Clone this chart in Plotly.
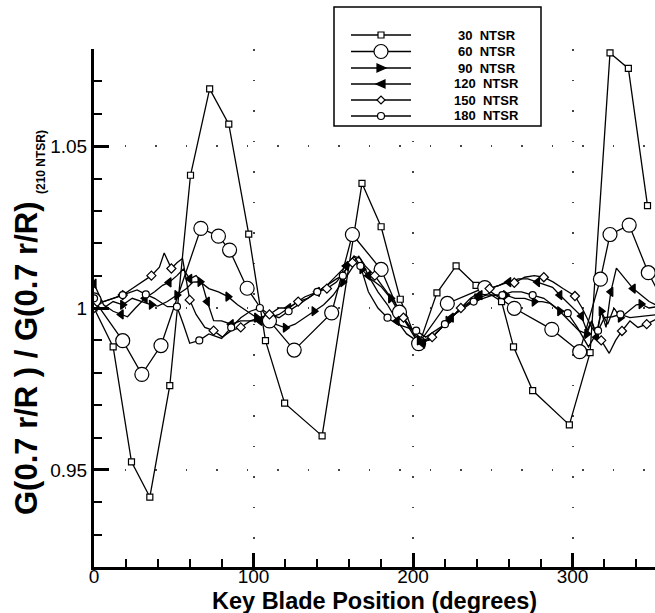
import plotly.graph_objects as go

# ---------------- data ----------------
deg_30 = [0, 12, 23.5, 35, 47.5, 60.5, 72.5, 84.5, 97, 107.5, 119.5, 143, 168, 180, 192, 203.5,
          215, 227, 239.5, 255.5, 263, 275, 298, 311, 323.5, 335, 347]
g_30 = [1.000, 0.988, 0.9525, 0.9416, 0.976, 1.041, 1.0677, 1.0568, 1.0228, 0.9899, 0.9706, 0.9605,
        1.0385, 1.0251, 1.0027, 0.9883, 1.0047, 1.013, 1.007, 1.002, 0.988, 0.9745, 0.9639, 0.9862,
        1.0788, 1.074, 1.0316]

deg_60 = [0, 18, 30, 42, 67, 78, 85, 96, 110, 125.5, 149, 162, 180, 191.5, 203.5, 221.5, 245,
          263.5, 287, 304.5, 317.5, 323.5, 335.5, 347.5, 360]
g_60 = [1.0025, 0.9899, 0.9795, 0.9884, 1.0246, 1.0222, 1.0179, 1.0061, 0.996, 0.987, 0.9985,
        1.0227, 1.0119, 0.9987, 0.989, 1.0014, 1.0063, 0.9999, 0.9934, 0.9865, 1.0089, 1.0227,
        1.0256, 1.0109, 0.999]

deg_90 = [0, 6, 12, 18, 24, 30, 36, 40, 46, 52, 58, 62, 66.5, 72, 78, 84, 90, 96, 102, 108, 114,
          120, 126, 132, 138, 144, 150, 156, 160, 164, 168, 173.5, 180, 186, 192, 198, 204, 210,
          216, 222, 228, 234, 240, 246, 252, 258, 264, 270, 276, 281, 286, 292, 298, 304, 309,
          312, 315, 318, 322, 326, 330, 335, 340, 343, 348, 354]
g_90 = [1.000, 1.000, 1.002, 1.001, 1.003, 1.002, 1.001, 1.0006, 1.002, 1.004, 1.006, 1.008,
        1.0081, 1.006, 1.005, 1.0035, 1.001, 0.999, 0.997, 0.996, 0.995, 0.9939, 0.995, 0.997,
        0.999, 1.001, 1.004, 1.008, 1.011, 1.014, 1.012, 1.009, 1.0066, 1.003, 0.998, 0.994,
        0.990, 0.990, 0.993, 0.996, 0.999, 1.001, 1.003, 1.004, 1.004, 1.004, 1.003, 1.003,
        1.002, 1.002, 1.0014, 0.999, 0.996, 0.993, 0.992, 0.996, 0.992, 0.999, 0.995, 1.000,
        0.997, 0.999, 1.001, 1.0012, 1.000, 1.0005]

deg_120 = [0, 6, 12, 17, 21, 26, 32, 38, 43, 47, 52, 56, 60, 64, 67.5, 71, 75, 80, 86, 92, 96,
           104, 110, 116, 122, 128, 132, 140, 146, 152, 158, 163, 167, 172, 178, 184, 190, 196,
           202, 206, 212, 218, 224, 230, 236, 242, 248, 254, 260, 266, 272, 278, 283, 287.5,
           292, 298, 302, 305.5, 309, 312, 315, 318, 321, 324, 327.5, 333, 338, 343, 348, 356]
g_120 = [1.0075, 1.001, 0.999, 0.998, 0.9973, 1.000, 1.003, 1.005, 1.007, 1.0079, 1.010, 1.012,
         1.009, 1.010, 1.0081, 1.002, 0.9961, 0.996, 0.995, 0.996, 0.996, 0.996, 0.997, 0.998,
         1.000, 1.002, 1.0034, 1.005, 1.007, 1.010, 1.013, 1.016, 1.0153, 1.010, 1.005, 1.001,
         0.996, 0.992, 0.990, 0.989, 0.991, 0.994, 0.997, 1.000, 1.002, 1.004, 1.006, 1.007,
         1.008, 1.009, 1.009, 1.008, 1.007, 1.0064, 1.004, 1.001, 0.999, 0.9975, 0.993, 0.996,
         0.991, 0.999, 0.994, 1.005, 1.0123, 1.009, 1.006, 1.004, 1.002, 1.000]

deg_150 = [0, 6, 12, 18, 24, 30, 36, 41, 44, 48.5, 52, 55.5, 60, 64, 69.5, 75, 80.5, 86, 92, 98,
           104, 110, 116, 122, 128, 134, 140, 146, 152, 158, 162, 166, 170, 176, 182, 188, 194,
           200, 206, 212, 218, 224, 230, 236, 242, 248, 254, 258, 263.5, 270, 276, 282, 288,
           294, 301.5, 306, 312, 318, 323, 327, 331, 336, 341, 346.5, 354]
g_150 = [1.000, 1.002, 1.003, 1.004, 1.006, 1.008, 1.010, 1.0126, 1.017, 1.0122, 1.014, 1.0153,
         1.0025, 0.998, 0.994, 0.993, 0.991, 0.993, 0.994, 0.996, 0.997, 0.998, 1.000, 1.000,
         1.002, 1.003, 1.005, 1.006, 1.008, 1.012, 1.014, 1.016, 1.013, 1.010, 1.006, 1.002,
         0.997, 0.993, 0.990, 0.991, 0.994, 0.997, 1.000, 1.003, 1.005, 1.006, 1.007, 1.008,
         1.0078, 1.0095, 1.010, 1.0095, 1.008, 1.006, 1.0037, 1.000, 0.994, 0.990, 0.986,
         0.990, 0.9929, 0.996, 0.994, 0.995, 0.997]

deg_180 = [0, 6, 12, 18, 24, 27, 32.5, 38, 46, 52, 56, 60, 66, 72, 80, 86, 92, 98, 104, 110,
           116, 122, 128, 134, 140, 146, 152, 156, 160, 163, 167, 172, 178, 184, 190, 196, 202,
           208, 214, 220, 226, 232, 238, 244, 250, 256, 262, 268, 275, 282, 290, 297, 303, 310,
           316, 320, 325, 330, 336, 343, 354]
g_180 = [1.003, 1.002, 1.003, 1.004, 1.005, 1.0056, 1.0042, 1.003, 1.0004, 1.0004, 0.995,
         0.9891, 0.990, 0.992, 0.9906, 0.994, 0.997, 0.999, 1.000, 0.998, 0.997, 0.999, 1.001,
         1.003, 1.005, 1.007, 1.009, 1.010, 1.014, 1.016, 1.013, 1.005, 1.000, 0.997, 0.995,
         0.994, 0.993, 0.991, 0.993, 0.995, 0.998, 1.000, 1.002, 1.003, 1.004, 1.004, 1.005,
         1.005, 1.004, 1.003, 1.000, 0.9984, 0.994, 0.988, 0.993, 0.997, 0.9973, 0.998, 0.997,
         0.9973, 0.998]

labels = ["30 NTSR", "60 NTSR", "90 NTSR", "120 NTSR", "150 NTSR", "180 NTSR"]
x_ticks = [0, 100, 200, 300]
y_ticks = [0.95, 1.0, 1.05]
y_ticktext = ["0.95", "1", "1.05"]

# ---------------- styles ----------------
W, H = 655, 613
L, R, T, B = 94, 0, 49, 46
PW, PH = W - L - R, H - T - B
X_MAX = 351.7

series = [
    (deg_30, g_30, dict(symbol="square", size=6, color="white"), 1),
    (deg_60, g_60, dict(symbol="circle", size=14, color="white"), 1),
    (deg_90, g_90, dict(symbol="triangle-right", size=8, color="black"), 3),
    (deg_120, g_120, dict(symbol="triangle-left", size=8, color="black"), 3),
    (deg_150, g_150, dict(symbol="diamond", size=7, color="white"), 3),
    (deg_180, g_180, dict(symbol="circle", size=7, color="white"), 3),
]

fig = go.Figure()
for xs, ys, mk, step in series:
    fig.add_trace(go.Scatter(x=xs, y=ys, mode="lines",
                             line=dict(color="black", width=1.3), hoverinfo="skip"))
for xs, ys, mk, step in series:
    mx = [x for i, x in enumerate(xs) if i % step == 0 and x <= X_MAX]
    my = [y for i, y in enumerate(ys) if i % step == 0 and xs[i] <= X_MAX]
    fig.add_trace(go.Scatter(x=mx, y=my, mode="markers", cliponaxis=True,
                             marker=dict(symbol=mk["symbol"], size=mk["size"], color=mk["color"],
                                         line=dict(color="black", width=1.2))))


def px(xp):
    return (xp - L) / PW


def py(yp):
    return (H - B - yp) / PH


shapes = []
# legend box
shapes.append(dict(type="rect", xref="paper", yref="paper", x0=px(334), x1=px(541),
                   y0=py(126), y1=py(7), line=dict(color="black", width=1.5),
                   fillcolor="white", layer="above"))
rows = [35, 51.5, 68, 84, 100, 116]
legend_marks = [
    ("rect", 3, None, "white"),
    ("circle", 7, None, "white"),
    ("path", 0, "M -4,-4 L 5,0 L -4,4 Z", "black"),
    ("path", 0, "M 4,-4 L -5,0 L 4,4 Z", "black"),
    ("path", 0, "M -4,0 L 0,4 L 4,0 L 0,-4 Z", "white"),
    ("circle", 3.5, None, "white"),
]
annotations = []
for i, yy in enumerate(rows):
    shapes.append(dict(type="line", xref="paper", yref="paper", x0=px(351), x1=px(411),
                       y0=py(yy), y1=py(yy), line=dict(color="black", width=1.3), layer="above"))
    kind, r, path, fill = legend_marks[i]
    shp = dict(type=kind, xref="paper", yref="paper", xsizemode="pixel", ysizemode="pixel",
               xanchor=px(381), yanchor=py(yy), fillcolor=fill,
               line=dict(color="black", width=1.2), layer="above")
    if kind == "path":
        shp["path"] = path
    else:
        shp.update(x0=-r, x1=r, y0=-r, y1=r)
    shapes.append(shp)
    annotations.append(dict(xref="paper", yref="paper", x=px(456 if i < 3 else 452), y=py(yy),
                            text="<b>" + labels[i].replace(" ", "&nbsp; ") + "</b>",
                            showarrow=False, xanchor="left", yanchor="middle",
                            font=dict(family="Liberation Sans", size=13, color="black")))

# axis titles
annotations.append(dict(xref="paper", yref="paper", x=0.5, y=py(601),
                        text="<b>Key Blade Position (degrees)</b>", showarrow=False,
                        xanchor="center", yanchor="middle", borderpad=0,
                        font=dict(family="Liberation Sans", size=23.5, color="black")))
annotations.append(dict(xref="paper", yref="paper", x=px(26), y=py(358),
                        text="<b>G(0.7 r/R ) / G(0.7 r/R)</b>", showarrow=False, textangle=-90,
                        xanchor="center", yanchor="middle",
                        font=dict(family="Liberation Sans", size=31, color="black")))
annotations.append(dict(xref="paper", yref="paper", x=px(41), y=py(162),
                        text="<b>(210 NTSR)</b>", showarrow=False, textangle=-90,
                        xanchor="center", yanchor="middle",
                        font=dict(family="Liberation Sans", size=12, color="black")))

fig.update_layout(
    width=W, height=H, margin=dict(l=L, r=R, t=T, b=B, pad=0),
    paper_bgcolor="white", plot_bgcolor="white", showlegend=False,
    shapes=shapes, annotations=annotations,
    xaxis=dict(range=[0, X_MAX], tickvals=x_ticks, ticks="inside", ticklen=14, tickwidth=3,
               tickcolor="black", showline=True, linewidth=3, linecolor="black",
               zeroline=False, showgrid=True, gridcolor="#444", gridwidth=1.5,
               griddash="1.5px,29px", ticklabelstandoff=-10,
               tickfont=dict(family="Liberation Sans", size=19, color="black"),
               minor=dict(dtick=20, tick0=0, ticks="inside", ticklen=8, tickwidth=2,
                          tickcolor="black", showgrid=False)),
    yaxis=dict(range=[0.92, 1.08], tickvals=y_ticks, ticktext=y_ticktext, ticks="inside",
               ticklen=15, tickwidth=3, tickcolor="black", showline=True, linewidth=3,
               linecolor="black", zeroline=False, showgrid=True, gridcolor="#444",
               gridwidth=1.5, griddash="1.5px,29px",
               tickfont=dict(family="Liberation Sans", size=19, color="black"),
               minor=dict(dtick=0.01, tick0=0.92, ticks="inside", ticklen=8, tickwidth=2,
                          tickcolor="black", showgrid=False)),
)

fig.write_html("out.html")
